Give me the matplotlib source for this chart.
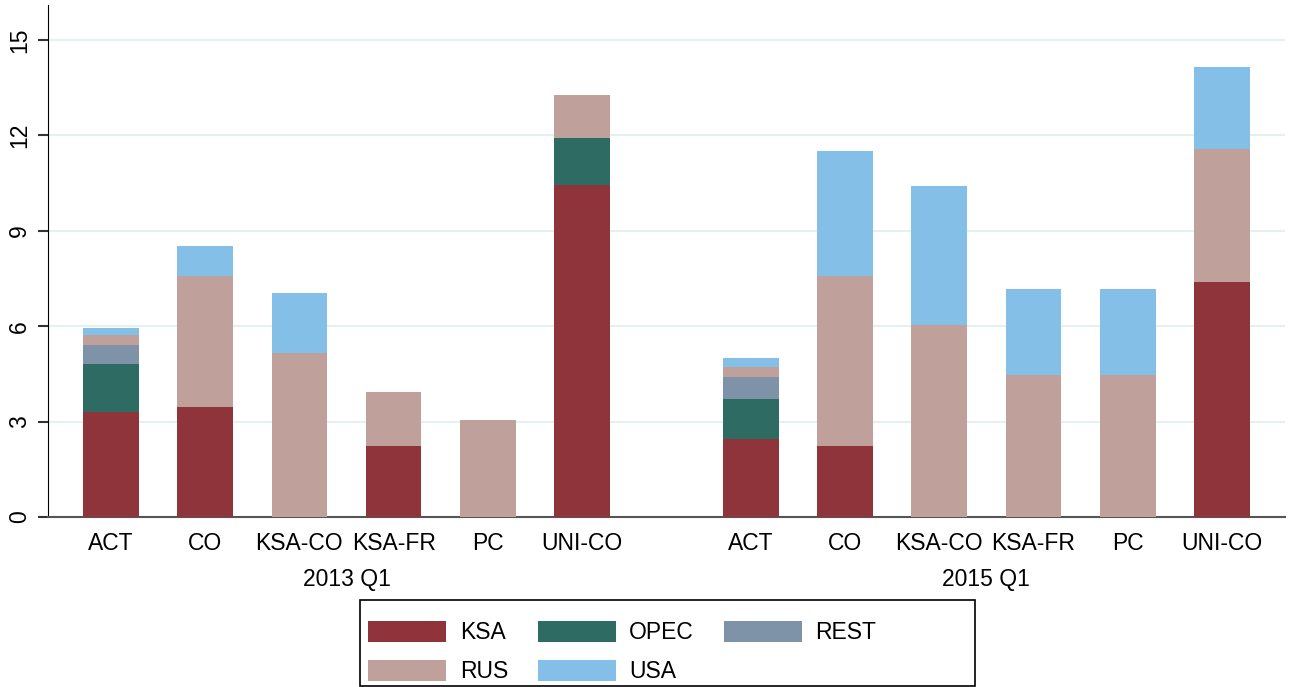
import matplotlib.pyplot as plt
from matplotlib.patches import Patch, Rectangle
import numpy as np

plt.rcParams['font.family'] = ['Liberation Sans', 'DejaVu Sans']

# scenarios per period
scenarios = ['ACT', 'CO', 'KSA-CO', 'KSA-FR', 'PC', 'UNI-CO']
periods = ['2013 Q1', '2015 Q1']

# stacked components, 2013 Q1 then 2015 Q1
ksa = [3.30, 3.46, 0.0, 2.23, 0.0, 10.44,
       2.44, 2.23, 0.0, 0.0, 0.0, 7.39]
opec = [1.51, 0.0, 0.0, 0.0, 0.0, 1.48,
        1.27, 0.0, 0.0, 0.0, 0.0, 0.0]
rest = [0.60, 0.0, 0.0, 0.0, 0.0, 0.0,
        0.68, 0.0, 0.0, 0.0, 0.0, 0.0]
rus = [0.31, 4.12, 5.16, 1.70, 3.05, 1.35,
       0.34, 5.35, 6.04, 4.47, 4.47, 4.18]
usa = [0.22, 0.94, 1.88, 0.0, 0.0, 0.0,
       0.27, 3.93, 4.37, 2.70, 2.70, 2.58]

series = [('KSA', ksa, '#8f343b'), ('OPEC', opec, '#2e6b63'),
          ('REST', rest, '#7e93a8'), ('RUS', rus, '#bfa09a'),
          ('USA', usa, '#84bfe8')]

n = len(scenarios)
gap = 1.79
x = np.concatenate([np.arange(n), np.arange(n) + n - 1 + gap])

W, H = 1290, 687
fig = plt.figure(figsize=(W / 100, H / 100), dpi=100)
ax = fig.add_axes([0.0372, 0.2475, 0.9588, 0.7452])

bottom = np.zeros(len(x))
for name, vals, col in series:
    vals = np.array(vals)
    ax.bar(x, vals, width=0.59, bottom=bottom, color=col, edgecolor='none', zorder=3)
    bottom += vals

ax.set_ylim(0, 16.1)
ax.set_xlim(-0.667, x[-1] + 0.667)
ax.set_yticks([0, 3, 6, 9, 12, 15])
ax.set_yticklabels(['0', '3', '6', '9', '12', '15'], rotation=90, va='center', fontsize=16.5)
ax.tick_params(axis='y', length=7, width=1.5, color='#333333', pad=5)
ax.grid(axis='y', color='#e6eff1', linewidth=1.5, zorder=0)

ax.set_xticks(x)
ax.set_xticklabels(scenarios * 2, fontsize=16.5)
ax.tick_params(axis='x', length=0, pad=11)

ax.spines['top'].set_visible(False)
ax.spines['right'].set_visible(False)
ax.spines['left'].set_color('black')
ax.spines['bottom'].set_color('#555555')
ax.spines['bottom'].set_linewidth(1.5)

# period labels under each group
for i, p in enumerate(periods):
    cx = x[i * n:(i + 1) * n].mean()
    ax.text(cx, -0.1, p, transform=ax.get_xaxis_transform(), ha='center', va='top', fontsize=16.5)

# legend box drawn separately (Stata pads the right side a lot)
fig.patches.append(Rectangle((360 / W, 1 - 686 / H), 615 / W, 86 / H, transform=fig.transFigure,
                             facecolor='white', edgecolor='black', linewidth=1.2, zorder=0))

# row-wise legend order: KSA OPEC REST / RUS USA
lookup = {nm: c for nm, _, c in series}
order = ['KSA', 'RUS', 'OPEC', 'USA', 'REST']
handles = [Patch(facecolor=lookup[nm], edgecolor='none', label=nm) for nm in order]
leg = fig.legend(handles=handles, ncol=3, loc='upper left', bbox_to_anchor=(368 / W, 1 - 621 / H),
                 fontsize=16.5, frameon=False,
                 handlelength=3.4, handleheight=1.05, columnspacing=1.3, handletextpad=0.6,
                 labelspacing=0.68, borderpad=0, borderaxespad=0)

fig.savefig('out.png', dpi=100)
